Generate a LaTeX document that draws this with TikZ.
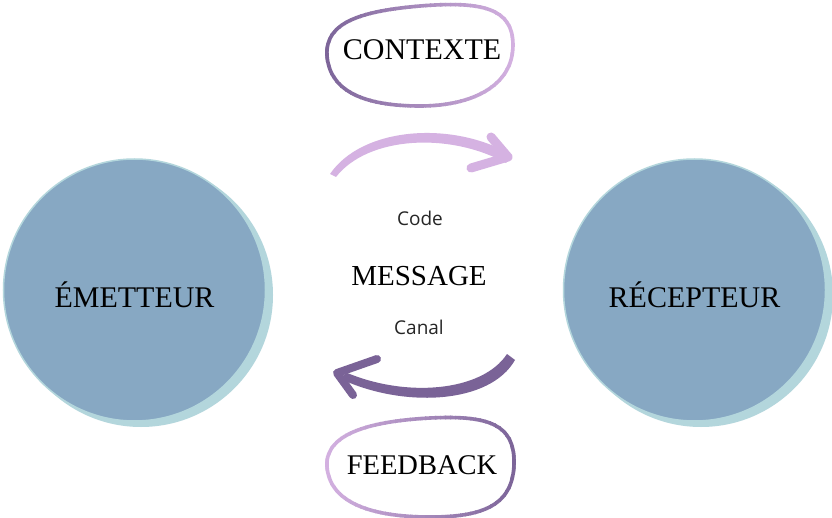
\documentclass[tikz,border=0pt]{standalone}
\usepackage{fontspec}
\setmainfont{Liberation Serif}
\newfontfamily\labelsans{Open Sans}
\definecolor{discblue}{HTML}{87A8C3}
\definecolor{discteal}{HTML}{B3D6DC}
\definecolor{lilac}{HTML}{D5B2E2}
\definecolor{plum}{HTML}{7A6397}
\tikzset{
  title/.style={font=\fontsize{30}{36}\selectfont, text=black, inner sep=0pt},
  small/.style={font=\labelsans\fontsize{19}{22}\selectfont, text=black!85, inner sep=0pt},
  disc/.style={circle, minimum size=262pt, inner sep=0pt, fill=discblue, draw=discteal, line width=1.5pt},
  discshadow/.style={circle, minimum size=264pt, inner sep=0pt, fill=discteal},
  ring/.style={line width=3.6pt, line join=round},
}
\begin{document}
\begin{tikzpicture}[x=1pt,y=-1pt]
\useasboundingbox (0,0) rectangle (832,518);
\fill[white] (0,0) rectangle (832,518);

% the two participants
\node[discshadow] at (141,295) {};
\node[disc] (emetteur) at (134.5,290) {};
\node[title] at (emetteur) [yshift=-5pt] {ÉMETTEUR};
\node[discshadow] at (701,295) {};
\node[disc] (recepteur) at (694.5,290) {};
\node[title] at (recepteur) [yshift=-5pt] {RÉCEPTEUR};

% message and its supports
\node[title, font=\fontsize{29}{34}\selectfont] (message) at (419,276) {MESSAGE};
\node[small] (code) at (420,218) {Code};
\node[small] (canal) at (419,327) {Canal};

% context bubble, stroke shaded dark to light from left to right
\foreach \i in {0,...,39}{
  \pgfmathtruncatemacro\p{100-100*\i/39}
  \begin{scope}
    \clip (320+5*\i,0) rectangle (326+5*\i,120);
    \draw[ring, draw=plum!\p!lilac]
      (327,55) .. controls (325,22) and (362,11) .. (420,6)
      .. controls (482,1) and (513,8) .. (513,45)
      .. controls (513,86) and (472,106) .. (420,106)
      .. controls (362,106) and (329,90) .. (327,55) -- cycle;
  \end{scope}
}
\node[title] (contexte) at (422,50) {CONTEXTE};

% feedback bubble, stroke shaded light to dark from left to right
\foreach \i in {0,...,39}{
  \pgfmathtruncatemacro\p{100*\i/39}
  \begin{scope}
    \clip (320+5*\i,410) rectangle (326+5*\i,518);
    \draw[ring, draw=plum!\p!lilac]
      (327,466) .. controls (325,432) and (375,421) .. (430,418)
      .. controls (490,415) and (514,425) .. (514,462)
      .. controls (514,506) and (482,517) .. (430,517)
      .. controls (370,517) and (329,502) .. (327,466) -- cycle;
  \end{scope}
}
\node[title, font=\fontsize{28.5}{34}\selectfont] (feedback) at (422,465) {FEEDBACK};

% forward arrow: brush stroke tapering at its start
\fill[lilac] (330,174) .. controls (362,127) and (452,120) .. (512,155)
  -- (506,163) .. controls (450,132) and (368,136) .. (336,177) -- cycle;
\draw[lilac, line width=9pt, line cap=round, line join=round] (491,137) -- (508,157) -- (471,168);

% return arrow
\fill[plum] (507,354) .. controls (482,392) and (405,398) .. (345,372)
  -- (343,380) .. controls (405,408) and (490,404) .. (515,360) -- cycle;
\draw[plum, line width=8pt, line cap=round, line join=round] (377,359) -- (337,373) -- (353,395);
\end{tikzpicture}
\end{document}
